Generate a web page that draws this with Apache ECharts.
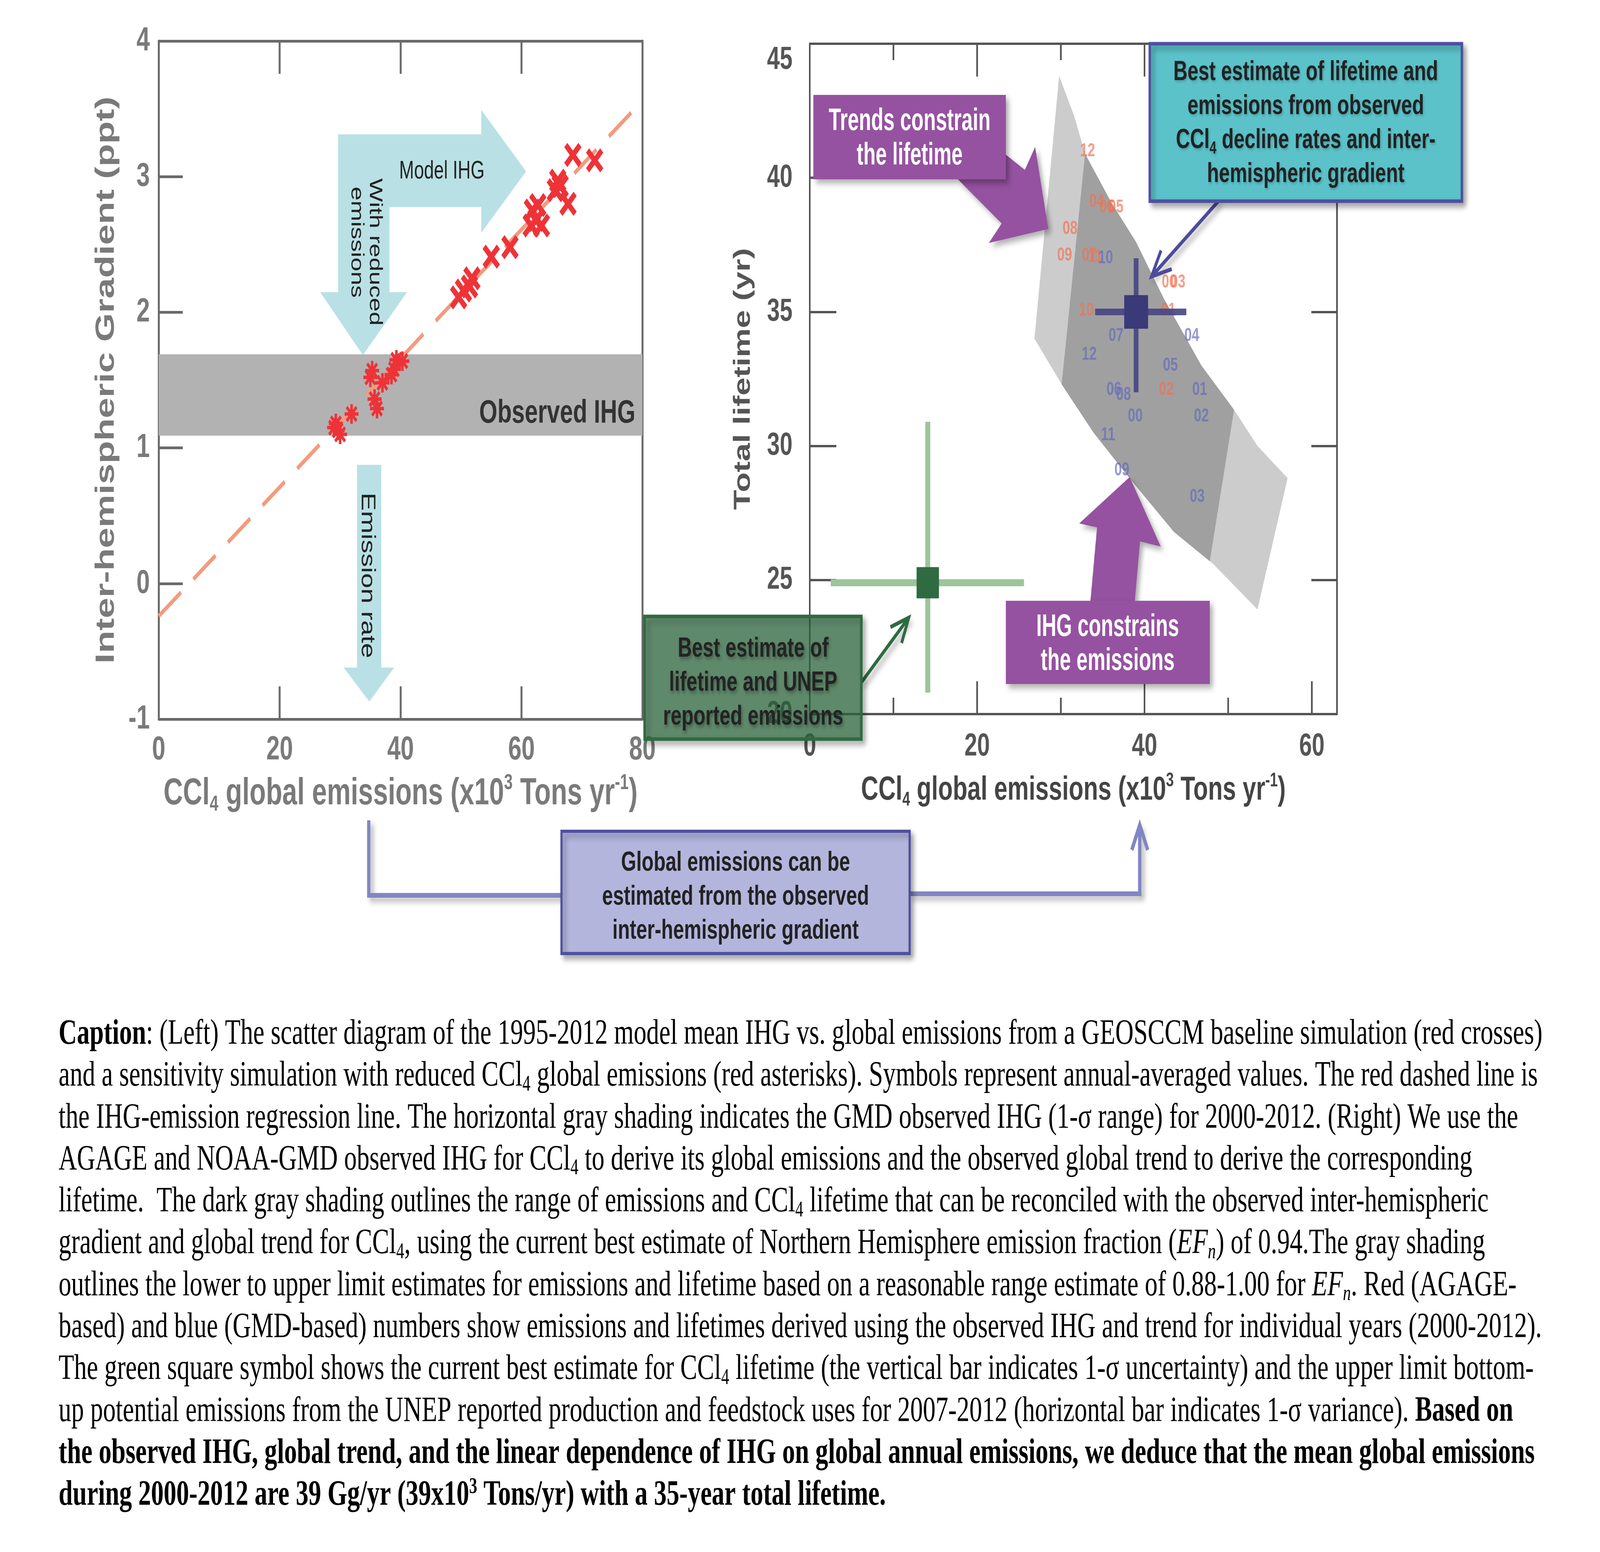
<!DOCTYPE html>
<html>
<head>
<meta charset="utf-8">
<title>CCl4 IHG, emissions and lifetime</title>
<script src="https://cdn.jsdelivr.net/npm/echarts@6/dist/echarts.min.js"></script>
<style>
html, body { margin: 0; padding: 0; background: #fff; overflow: hidden; }
#main { width: 5736px; height: 3973px; transform-origin: 0 0; }
</style>
</head>
<body>
<div id="main"></div>
<script>
// ---- left panel: model IHG (ppt) vs CCl4 global emissions (x10^3 t/yr)
var crossPts = [[68.5,3.16],[72.1,3.12],[67.7,2.80],[66.0,2.97],[65.6,2.90],[66.4,2.93],
                [61.8,2.75],[62.7,2.79],[61.6,2.64],[63.3,2.64],[62.4,2.68],[58.1,2.48],
                [55.0,2.41],[49.6,2.11],[50.4,2.16],[51.8,2.25],[51.4,2.19]];   // baseline run
var starPts = [[29.0,1.15],[29.6,1.13],[30.0,1.10],[29.3,1.18],[31.9,1.25],[35.3,1.57],
               [35.0,1.52],[37.0,1.48],[35.7,1.36],[36.1,1.29],[38.5,1.54],[38.9,1.58],
               [39.3,1.65],[40.3,1.64]];                                      // reduced emissions run
var regLine = [[0,-0.24],[80,3.56]];
var obsIHG = [1.09, 1.69];

// ---- right panel: total lifetime (yr) vs emissions
var outerBand = [[29.8,43.8],[31.6,42.3],[32.9,40.9],[36.0,39.1],[39.0,37.6],[42.3,35.5],
                 [46.8,33.0],[50.7,31.35],[53.5,30.0],[57.1,28.8],[53.5,23.9],[48.2,25.6],
                 [43.5,26.8],[38.2,28.8],[33.9,30.5],[30.1,32.3],[26.85,34.0]];
var innerBand = [[32.9,40.9],[36.0,39.1],[39.0,37.6],[42.3,35.5],[46.8,33.0],[50.7,31.35],
                 [47.8,25.7],[43.5,26.8],[38.2,28.8],[33.9,30.5],[30.1,32.3]];
var agageYears = ['12','04','06','05','08','09','07','11','00','03','10','01','02'];
var agageEmis  = [33.2, 34.3, 35.5, 36.6, 31.1, 30.45, 33.4, 34.1, 42.95, 44.0, 33.05, 42.85, 42.6];
var agageLife  = [41.0, 39.1, 38.9, 38.9, 38.1, 37.1, 37.1, 37.05, 36.1, 36.1, 35.05, 35.05, 32.1];
var gmdYears = ['10','07','04','12','05','06','08','01','00','02','11','09','03'];
var gmdEmis  = [35.35, 36.6, 45.65, 33.4, 43.1, 36.35, 37.5, 46.6, 38.9, 46.8, 35.65, 37.3, 46.3];
var gmdLife  = [37.0, 34.1, 34.1, 33.4, 33.0, 32.1, 31.9, 32.1, 31.1, 31.1, 30.4, 29.1, 28.1];
var bestEst = [39.0, 35.0], bestErrX = [34.1, 45.0], bestErrY = [32.0, 37.0];
var unepEst = [14.1, 24.9], unepErrX = [2.5, 25.6], unepErrY = [20.8, 30.9];

var W = 5736, H = 3973;
var sans = '"Liberation Sans", Arial, Helvetica, sans-serif';
var serif = '"Liberation Serif", "Times New Roman", serif';

// the window may be narrower than the drawing; squeeze the page to fit it
var el = document.getElementById('main');
var sx = Math.min(1, window.innerWidth / W), sy = Math.min(1, window.innerHeight / H);
el.style.transform = 'scale(' + sx + ',' + sy + ')';

var xPath = 'path://M0 18 L18 0 L50 32 L82 0 L100 18 L68 50 L100 82 L82 100 L50 68 L18 100 L0 82 L32 50 Z';
function starPath() {
  var d = '';
  [0, 45, 90, 135].forEach(function (a) {
    var r = a * Math.PI / 180, c = Math.cos(r), s = Math.sin(r);
    var pts = [[-50,-9],[50,-9],[50,9],[-50,9]].map(function (p) {
      return (50 + p[0]*c - p[1]*s).toFixed(2) + ' ' + (50 + p[0]*s + p[1]*c).toFixed(2);
    });
    d += 'M' + pts.join(' L') + ' Z ';
  });
  return 'path://' + d;
}

function polySeries(pts, fill) {
  return {
    type: 'custom', xAxisIndex: 2, yAxisIndex: 2, data: [[30, 35]], z: 1, silent: true,
    renderItem: function (params, api) {
      return { type: 'polygon', shape: { points: pts.map(function (p) { return api.coord(p); }) },
               style: { fill: fill } };
    }
  };
}
function errSeries(c, ex, ey, color, w) {
  return {
    type: 'custom', xAxisIndex: 2, yAxisIndex: 2, data: [c], z: 6, silent: true,
    renderItem: function (params, api) {
      var a = api.coord([ex[0], c[1]]), b = api.coord([ex[1], c[1]]);
      var u = api.coord([c[0], ey[1]]), v = api.coord([c[0], ey[0]]);
      return { type: 'group', children: [
        { type: 'line', shape: { x1: a[0], y1: a[1], x2: b[0], y2: b[1] }, style: { stroke: color, lineWidth: w } },
        { type: 'line', shape: { x1: u[0], y1: u[1], x2: v[0], y2: v[1] }, style: { stroke: color, lineWidth: w } }
      ]};
    }
  };
}
function yearLabels(names, xs, ys, color) {
  return {
    type: 'scatter', xAxisIndex: 2, yAxisIndex: 2, z: 5, silent: true,
    data: names.map(function (n, i) { return [xs[i], ys[i], n]; }),
    symbolSize: 1, itemStyle: { color: 'rgba(0,0,0,0)' },
    label: { show: true, position: 'inside', formatter: function (p) { return p.value[2]; },
             color: color, fontSize: 48, fontWeight: 'bold', fontFamily: sans }
  };
}

// ---- axes
var frameL = { show: true, onZero: false, lineStyle: { color: '#6a6a6a', width: 7 } };
var frameR = { show: true, onZero: false, lineStyle: { color: '#555555', width: 6 } };
var subRich = function (size, color, weight) {
  return {
    a: { fontSize: size, fontWeight: weight, color: color, fontFamily: sans, lineHeight: size * 1.15 },
    s: { fontSize: size * 0.58, fontWeight: weight, color: color, fontFamily: sans, verticalAlign: 'bottom', lineHeight: size * 0.42 },
    p: { fontSize: size * 0.58, fontWeight: weight, color: color, fontFamily: sans, verticalAlign: 'top', lineHeight: size * 0.58 }
  };
};
var emisName = '{a|CCl}{s|4}{a| global emissions (x10}{p|3}{a| Tons yr}{p|-1}{a|)}';

function xAx(grid, max, pos, ticks, len, frame, opt) {
  var o = {
    gridIndex: grid, type: 'value', min: 0, max: max, position: pos,
    axisLine: frame, splitLine: { show: false },
    axisTick: { show: true, inside: true, length: len, customValues: ticks, lineStyle: frame.lineStyle },
    axisLabel: { show: false }
  };
  for (var k in opt) o[k] = opt[k];
  return o;
}
var noLineR = { show: false, onZero: false, lineStyle: frameR.lineStyle };

var xAxes = [
  xAx(0, 80, 'bottom', [20, 40, 60], 84, frameL, {
    axisLabel: { show: true, customValues: [0, 20, 40, 60, 80], fontSize: 86, fontWeight: 'bold', color: '#7a7a7a', fontFamily: sans, margin: 36 },
    name: emisName, nameLocation: 'middle', nameGap: 136, nameTextStyle: { rich: subRich(96, '#7a7a7a', 'bold') }
  }),
  xAx(0, 80, 'top', [20, 40, 60], 84, frameL, {}),
  xAx(1, 63, 'bottom', [20, 40, 60], 84, frameR, {
    axisLabel: { show: true, customValues: [0, 20, 40, 60], fontSize: 82, fontWeight: 'bold', color: '#555', fontFamily: sans, margin: 42 },
    name: emisName, nameLocation: 'middle', nameGap: 146, nameTextStyle: { rich: subRich(86, '#444', 'bold') }
  }),
  xAx(1, 63, 'bottom', [10, 30, 50], 42, noLineR, {}),
  xAx(1, 63, 'top', [20, 40, 60], 84, frameR, {}),
  xAx(1, 63, 'top', [10, 30, 50], 42, noLineR, {})
];

var yAxes = [
  { gridIndex: 0, type: 'value', min: -1, max: 4, interval: 1, position: 'left',
    axisLine: frameL, splitLine: { show: false },
    axisTick: { show: true, inside: true, length: 86, customValues: [0, 1, 2, 3], lineStyle: frameL.lineStyle },
    axisLabel: { fontSize: 86, fontWeight: 'bold', color: '#7a7a7a', fontFamily: sans, margin: 32 },
    name: 'Inter-hemispheric Gradient (ppt)', nameLocation: 'middle', nameGap: 140,
    nameTextStyle: { fontSize: 95, fontWeight: 'bold', color: '#7a7a7a', fontFamily: sans } },
  { gridIndex: 0, type: 'value', min: -1, max: 4, position: 'right', axisLine: frameL,
    axisTick: { show: false }, axisLabel: { show: false }, splitLine: { show: false } },
  { gridIndex: 1, type: 'value', min: 20, max: 45, interval: 5, position: 'left',
    axisLine: frameR, splitLine: { show: false },
    axisTick: { show: true, inside: true, length: 95, customValues: [25, 30, 35, 40], lineStyle: frameR.lineStyle },
    axisLabel: { fontSize: 82, fontWeight: 'bold', color: '#555', fontFamily: sans, margin: 62, verticalAlignMaxLabel: 'top' },
    name: 'Total lifetime (yr)', nameLocation: 'middle', nameGap: 196,
    nameTextStyle: { fontSize: 84, fontWeight: 'bold', color: '#555', fontFamily: sans } },
  { gridIndex: 1, type: 'value', min: 20, max: 45, position: 'right', axisLine: frameR,
    axisTick: { show: true, inside: true, length: 92, customValues: [25, 30, 35, 40], lineStyle: frameR.lineStyle },
    axisLabel: { show: false }, splitLine: { show: false } }
];

// ---- annotation graphics (pixel layout)
var shadow = { shadowColor: 'rgba(0,0,0,0.32)', shadowBlur: 16, shadowOffsetX: 10, shadowOffsetY: 10 };
function ext(a, b) { var o = {}; for (var k in a) o[k] = a[k]; for (var j in b) o[j] = b[j]; return o; }
function poly(pts, fill, z, sh) {
  return { type: 'polygon', shape: { points: pts }, style: ext({ fill: fill }, sh ? shadow : {}), z: z, silent: true };
}
function box(x, y, w, h, fill, stroke, lw) {
  return { type: 'rect', shape: { x: x, y: y, width: w, height: h },
           style: ext({ fill: fill, stroke: stroke, lineWidth: lw }, shadow), z: 50, silent: true };
}
function txt(x, y, text, st, z, rot, scy) {
  var s = ext({ text: text, fontFamily: sans, textAlign: 'center', textVerticalAlign: 'middle', align: 'center', verticalAlign: 'middle' }, st);
  var e = { type: 'text', x: x, y: y, style: s, z: z || 52, silent: true };
  if (rot) e.rotation = rot;
  if (scy) e.scaleY = scy;
  return e;
}
function chevron(tip, from, len, ang) {
  var dx = from[0] - tip[0], dy = from[1] - tip[1], L = Math.sqrt(dx * dx + dy * dy);
  dx /= L; dy /= L;
  function r(a) { var c = Math.cos(a), s = Math.sin(a); return [tip[0] + len * (dx * c - dy * s), tip[1] + len * (dx * s + dy * c)]; }
  return [r(ang), tip, r(-ang)];
}
function arrow(pts, color, w, head) {
  var n = pts.length;
  return [
    { type: 'polyline', shape: { points: pts }, style: ext({ stroke: color, lineWidth: w, fill: null, lineJoin: 'miter' }, shadow), z: 49, silent: true },
    { type: 'polyline', shape: { points: chevron(pts[n - 1], pts[n - 2], head, 0.42) }, style: { stroke: color, lineWidth: w, fill: null, lineJoin: 'miter' }, z: 49, silent: true }
  ];
}

var g = [];
// left panel cyan arrows and labels
g.push(poly([[1212,344],[1725,344],[1725,281],[1886,439],[1725,596],[1725,530],[1396,530],[1396,748],
             [1459,748],[1301,909],[1148,748],[1212,748]], '#B9E1E5', 1));
g.push(poly([[1280,1190],[1367,1190],[1367,1709],[1413,1709],[1324,1796],[1232,1709],[1280,1709]], '#B9E1E5', 1));
g.push(txt(1584, 439, 'Model IHG', { fontSize: 64, fill: '#222' }, 2));
g.push(txt(1344, 645, 'With reduced', { fontSize: 64, fill: '#222' }, 2, -Math.PI / 2));
g.push(txt(1278, 620, 'emissions', { fontSize: 64, fill: '#222' }, 2, -Math.PI / 2));
g.push(txt(1316, 1473, 'Emission rate', { fontSize: 70, fill: '#222' }, 2, -Math.PI / 2));
g.push(txt(2278, 1059, 'Observed IHG', { fontSize: 84, fontWeight: 'bold', fill: '#333', textAlign: 'right', align: 'right' }, 5));

// right panel purple callouts
g.push(poly([[3606,396],[3674,435],[3711,376],[3758,586],[3545,622],[3591,572],[3434,459],[3606,459]], '#9552A0', 50, true));
g.push(box(2916, 243, 690, 216, '#9552A0', null, 0));
g.push(txt(3261, 355, 'Trends constrain\nthe lifetime', { fontSize: 72, fontWeight: 'bold', fill: '#fff', lineHeight: 80 }, 52, 0, 1.1));
g.push(poly([[3909,1540],[3933,1350],[3869,1340],[4050,1221],[4161,1399],[4087,1386],[4068,1540]], '#9552A0', 50, true));
g.push(box(3606, 1538, 731, 213, '#9552A0', null, 0));
g.push(txt(3971, 1650, 'IHG constrains\nthe emissions', { fontSize: 72, fontWeight: 'bold', fill: '#fff', lineHeight: 79 }, 52, 0, 1.1));

// teal best-estimate box
g = g.concat(arrow([[4368,515],[4128,708]], '#4C4C9C', 10, 75));
g.push(box(4122, 112, 1119, 403, '#5BC2C9', '#4E4FA0', 9));
g.push(txt(4681, 316, 'Best estimate of lifetime and\nemissions from observed\nCCl{s|4} decline rates and inter-\nhemispheric gradient',
  { fontSize: 70, fontWeight: 'bold', fill: '#222', lineHeight: 87,
    textShadowColor: 'rgba(0,0,0,0.2)', textShadowBlur: 6, textShadowOffsetX: 3, textShadowOffsetY: 4,
    rich: { s: { fontSize: 44, fontWeight: 'bold', fill: '#222', fontFamily: sans, verticalAlign: 'bottom', lineHeight: 40 } } }));

// green UNEP box
g = g.concat(arrow([[3088,1747],[3258,1581]], '#2E6B40', 10, 70));
g.push(box(2311, 1578, 777, 314, 'rgba(46,107,64,0.68)', '#2E6B40', 9));
g.push(txt(2700, 1749, 'Best estimate of\nlifetime and UNEP\nreported emissions',
  { fontSize: 70, fontWeight: 'bold', fill: '#232323', lineHeight: 87,
    textShadowColor: 'rgba(0,0,0,0.3)', textShadowBlur: 8, textShadowOffsetX: 4, textShadowOffsetY: 6 }));

// lavender box with connectors
g.push({ type: 'polyline', shape: { points: [[1322,2100],[1322,2292],[2013,2292]] },
         style: ext({ stroke: '#8186C4', lineWidth: 12, fill: null }, shadow), z: 49, silent: true });
g = g.concat(arrow([[3261,2288],[4086,2288],[4086,2112]], '#8186C4', 12, 70));
g.push(box(2013, 2128, 1248, 313, '#B3B5DC', '#4E50A0', 8));
g.push(txt(2637, 2297, 'Global emissions can be\nestimated from the observed\ninter-hemispheric gradient',
  { fontSize: 70, fontWeight: 'bold', fill: '#222', lineHeight: 87 }));

// caption
var capLines = [
  '{b|Caption}: (Left) The scatter diagram of the 1995-2012 model mean IHG vs. global emissions from a GEOSCCM baseline simulation (red crosses)',
  'and a sensitivity simulation with reduced CCl{s|4} global emissions (red asterisks). Symbols represent annual-averaged values. The red dashed line is',
  'the IHG-emission regression line. The horizontal gray shading indicates the GMD observed IHG (1-σ range) for 2000-2012. (Right) We use the',
  'AGAGE and NOAA-GMD observed IHG for CCl{s|4} to derive its global emissions and the observed global trend to derive the corresponding',
  'lifetime.  The dark gray shading outlines the range of emissions and CCl{s|4} lifetime that can be reconciled with the observed inter-hemispheric',
  'gradient and global trend for CCl{s|4}, using the current best estimate of Northern Hemisphere emission fraction ({i|EF}{is|n}) of 0.94.The gray shading',
  'outlines the lower to upper limit estimates for emissions and lifetime based on a reasonable range estimate of 0.88-1.00 for {i|EF}{is|n}. Red (AGAGE-',
  'based) and blue (GMD-based) numbers show emissions and lifetimes derived using the observed IHG and trend for individual years (2000-2012).',
  'The green square symbol shows the current best estimate for CCl{s|4} lifetime (the vertical bar indicates 1-σ uncertainty) and the upper limit bottom-',
  'up potential emissions from the UNEP reported production and feedstock uses for 2007-2012 (horizontal bar indicates 1-σ variance). {b|Based on}',
  '{b|the observed IHG, global trend, and the linear dependence of IHG on global annual emissions, we deduce that the mean global emissions}',
  '{b|during 2000-2012 are 39 Gg/yr (39x10}{bp|3}{b| Tons/yr) with a 35-year total lifetime.}'
];
var cf = 91;
var capRich = {
  b:  { fontFamily: serif, fontSize: cf, fontWeight: 'bold', fill: '#000', lineHeight: 100 },
  s:  { fontFamily: serif, fontSize: cf * 0.63, fill: '#000', verticalAlign: 'bottom', lineHeight: 44 },
  i:  { fontFamily: serif, fontSize: cf, fontStyle: 'italic', fill: '#000', lineHeight: 100 },
  is: { fontFamily: serif, fontSize: cf * 0.63, fontStyle: 'italic', fill: '#000', verticalAlign: 'bottom', lineHeight: 44 },
  bp: { fontFamily: serif, fontSize: cf * 0.63, fontWeight: 'bold', fill: '#000', verticalAlign: 'top', lineHeight: 56 }
};
capLines.forEach(function (t, i) {
  g.push(txt(210, 2648 + i * 107.3, t, { fontFamily: serif, fontSize: cf, fill: '#000', lineHeight: 100,
    textAlign: 'left', align: 'left', rich: capRich }, 50));
});

var myChart = echarts.init(el, null, { renderer: 'canvas', width: W, height: H });
var option = {
  backgroundColor: '#ffffff',
  animation: false,
  grid: [
    { left: 569, top: 105, width: 1734, height: 1736, outerBoundsMode: 'none', containLabel: false },
    { left: 2903, top: 112, width: 1890, height: 1716, outerBoundsMode: 'none', containLabel: false }
  ],
  xAxis: xAxes,
  yAxis: yAxes,
  series: [
    { type: 'custom', xAxisIndex: 0, yAxisIndex: 0, data: [[40, 1.4]], z: 1, silent: true,
      renderItem: function (params, api) {
        var a = api.coord([0, obsIHG[1]]), b = api.coord([80, obsIHG[0]]);
        return { type: 'rect', shape: { x: a[0], y: a[1], width: b[0] - a[0], height: b[1] - a[1] }, style: { fill: '#B2B2B2' } };
      } },
    { type: 'line', xAxisIndex: 0, yAxisIndex: 0, data: regLine, symbol: 'none', z: 3, silent: true,
      lineStyle: { color: '#F49A7E', width: 11, type: [100, 56] } },
    { type: 'scatter', xAxisIndex: 0, yAxisIndex: 0, data: crossPts, symbol: xPath, symbolSize: 62, z: 4,
      itemStyle: { color: '#EE3338', opacity: 1 } },
    { type: 'scatter', xAxisIndex: 0, yAxisIndex: 0, data: starPts, symbol: starPath(), symbolSize: 50, z: 4,
      itemStyle: { color: '#EE3338', opacity: 1 } },

    polySeries(outerBand, '#CCCCCC'),
    polySeries(innerBand, '#A0A0A0'),
    yearLabels(agageYears, agageEmis, agageLife, 'rgba(244,112,80,0.85)'),
    yearLabels(gmdYears, gmdEmis, gmdLife, 'rgba(98,106,188,0.85)'),
    errSeries(bestEst, bestErrX, bestErrY, 'rgba(70,68,130,0.9)', 17),
    { type: 'scatter', xAxisIndex: 2, yAxisIndex: 2, data: [bestEst], symbol: 'rect', symbolSize: 86, z: 7,
      itemStyle: { color: '#3B3A78', opacity: 1 } },
    errSeries(unepEst, unepErrX, unepErrY, '#9DC49A', 18),
    { type: 'scatter', xAxisIndex: 2, yAxisIndex: 2, data: [unepEst], symbol: 'rect', symbolSize: 80, z: 7,
      itemStyle: { color: '#2E6B40', opacity: 1 } }
  ],
  graphic: { elements: g }
};
myChart.setOption(option);
</script>
</body>
</html>
